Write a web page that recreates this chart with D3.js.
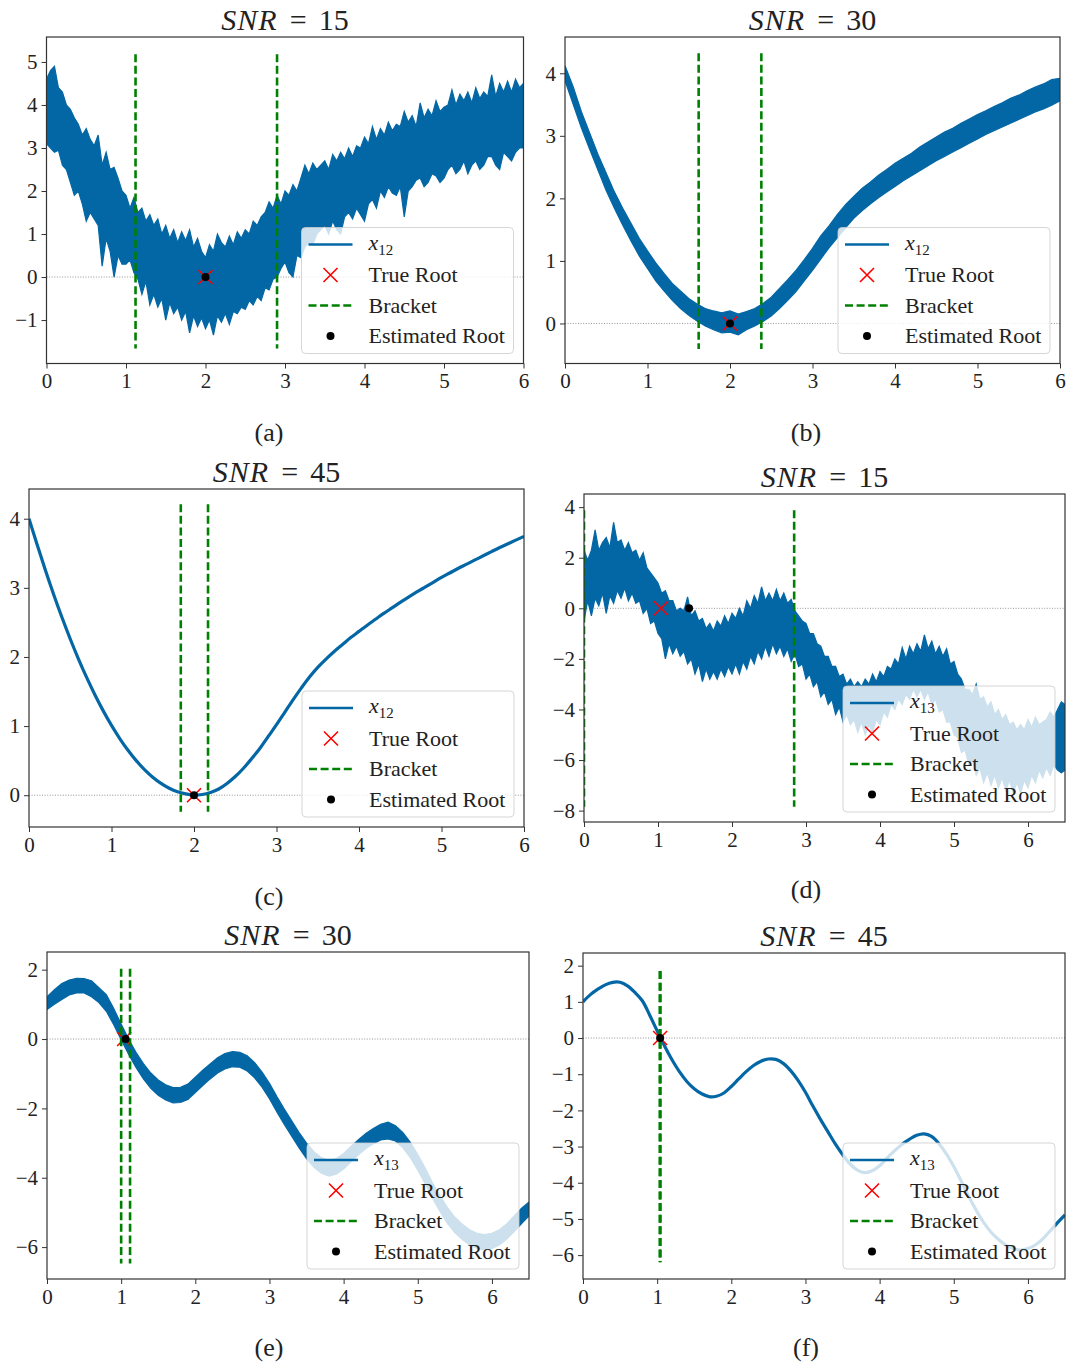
<!DOCTYPE html>
<html>
<head>
<meta charset="utf-8">
<script src="https://cdn.jsdelivr.net/npm/d3@7"></script>
<style>
  body { margin: 0; background: #fff; }
  svg { display: block; }
  text { font-family: "Liberation Serif", "Times New Roman", serif; fill: #222; }
</style>
</head>
<body>
<svg id="fig" width="1068" height="1366"></svg>
<script>
// ---------------------------------------------------------------------------
// Data: x12 and x13 traces at three noise levels, sampled on even x grids.
// Noisy traces are stored as upper / lower envelopes of the signal band.
// ---------------------------------------------------------------------------

// x12, SNR = 15 (step 0.05 from x = 0 to 6)
const X12_SNR15_STEP = 0.05;
const X12_SNR15_UPPER = [
  4.6,4.8,4.9,4.4,4.3,4.0,3.9,3.7,3.55,3.3, 3.45,3.2,3.05,3.3,2.6,2.9,2.5,2.55,2.3,2.0,
  1.9,1.6,1.85,1.5,1.6,1.3,1.45,1.2,1.35,1.0, 1.2,0.9,1.1,0.8,1.05,0.85,1.1,0.7,0.9,0.6,
  0.45,0.75,0.6,1.0,0.8,0.7,0.95,0.75,1.05,0.9, 1.1,1.0,1.3,1.2,1.4,1.5,1.75,1.6,1.9,1.7,
  2.0,1.9,2.15,2.0,2.3,2.6,2.4,2.65,2.5,2.6, 2.7,2.5,2.85,2.7,2.9,2.75,3.0,2.8,3.05,3.0,
  3.25,3.1,3.5,3.2,3.45,3.3,3.6,3.4,3.55,3.5, 3.85,3.6,3.75,3.5,4.05,3.7,3.9,3.75,4.1,3.85,
  3.95,4.0,4.35,4.0,4.25,4.1,4.3,4.05,4.4,4.15, 4.3,4.2,4.7,4.2,4.5,4.3,4.55,4.3,4.6,4.4,
  4.5
];
const X12_SNR15_LOWER = [
  3.1,3.0,2.9,2.95,2.6,2.5,2.2,1.9,2.0,1.7, 1.3,1.5,1.35,1.2,0.25,0.9,0.6,0.0,0.5,0.3,
  0.3,0.4,0.1,-0.05,-0.4,-0.1,-0.65,-0.4,-0.7,-0.5, -1.0,-0.6,-0.85,-0.7,-1.0,-0.8,-1.3,-0.9,-1.15,-0.95,
  -1.2,-1.0,-1.35,-0.9,-1.05,-0.85,-1.1,-0.8,-0.85,-0.7, -0.75,-0.55,-0.65,-0.45,-0.55,-0.25,-0.3,-0.05,0.0,0.2,
  0.35,0.1,0.0,0.5,0.45,0.7,0.8,0.75,1.0,1.1, 1.2,1.0,1.3,1.1,1.0,1.4,1.5,1.35,1.6,1.45,
  1.3,1.7,1.8,1.6,2.0,1.85,2.1,1.95,1.9,2.1, 1.4,2.0,2.1,2.25,2.3,2.1,2.2,2.4,2.35,2.2,
  2.3,2.5,2.6,2.4,2.5,2.7,2.4,2.6,2.7,2.5, 2.6,2.8,2.8,2.6,2.5,2.9,2.8,2.7,2.9,3.0,
  3.0
];

// x12, SNR = 30 (step 0.1 from x = 0 to 6)
const X12_SNR30_STEP = 0.1;
const X12_SNR30_UPPER = [
  4.12,3.78,3.38,3.04,2.7,2.4,2.1,1.84,1.6,1.36,
  1.16,0.97,0.8,0.64,0.52,0.4,0.31,0.24,0.2,0.17,
  0.2,0.15,0.19,0.24,0.32,0.42,0.56,0.7,0.85,1.02,
  1.2,1.4,1.56,1.74,1.9,2.03,2.16,2.26,2.37,2.46,
  2.56,2.64,2.72,2.82,2.9,2.98,3.06,3.12,3.2,3.27,
  3.34,3.4,3.47,3.53,3.6,3.65,3.72,3.78,3.83,3.9,
  3.92
];
const X12_SNR30_LOWER = [
  3.88,3.5,3.12,2.78,2.45,2.12,1.84,1.57,1.32,1.08,
  0.88,0.68,0.52,0.37,0.24,0.13,0.04,-0.04,-0.1,-0.15,
  -0.14,-0.18,-0.1,-0.04,0.03,0.12,0.24,0.37,0.51,0.68,
  0.85,1.03,1.21,1.37,1.53,1.68,1.8,1.91,2.01,2.1,
  2.19,2.28,2.36,2.44,2.52,2.6,2.67,2.74,2.81,2.88,
  2.95,3.02,3.08,3.14,3.2,3.26,3.32,3.38,3.43,3.49,
  3.56
];

// x12, SNR = 45 (step 0.1 from x = 0 to 6)
const X12_SNR45_STEP = 0.1;
const X12_SNR45 = [
  4.0,3.62,3.25,2.9,2.57,2.26,1.97,1.7,1.45,1.22,
  1.01,0.82,0.65,0.5,0.37,0.26,0.17,0.1,0.05,0.02,
  0.0,0.01,0.04,0.09,0.17,0.27,0.39,0.53,0.68,0.85,
  1.02,1.2,1.38,1.55,1.71,1.85,1.97,2.08,2.18,2.28,
  2.37,2.46,2.545,2.63,2.71,2.79,2.865,2.94,3.01,3.08,
  3.15,3.215,3.28,3.34,3.4,3.46,3.52,3.58,3.635,3.69,
  3.745
];

// x13, SNR = 15 (step 0.05 from x = 0 to 6.5)
const X13_SNR15_STEP = 0.05;
const X13_SNR15_UPPER = [
  2.3,1.9,2.3,3.1,2.3,2.6,2.8,2.4,3.4,2.6, 2.7,2.3,2.6,2.2,2.3,1.9,2.2,1.6,1.4,1.2,
  1.0,0.6,0.7,0.3,0.3,-0.1,0.0,-0.1,0.45,-0.3, -0.1,-0.5,-0.4,-0.8,-0.6,-0.9,-0.5,-0.7,-0.3,-0.6,
  -0.2,-0.4,0.0,-0.3,0.3,0.0,0.5,0.2,0.85,0.3, 0.6,0.3,0.75,0.3,0.6,0.2,0.35,-0.1,-0.3,-0.5,
  -0.6,-1.0,-1.0,-1.4,-1.5,-1.9,-1.9,-2.3,-2.3,-2.7, -2.6,-3.0,-2.8,-3.1,-2.9,-3.1,-2.8,-3.0,-2.6,-2.9,
  -2.5,-2.7,-2.3,-2.4,-2.0,-2.2,-1.55,-2.0,-1.5,-1.8, -1.4,-1.7,-1.05,-1.6,-1.3,-1.8,-1.5,-1.9,-1.6,-2.2,
  -2.1,-2.6,-2.8,-3.2,-3.2,-3.4,-3.0,-3.6,-3.5,-3.9, -3.7,-4.2,-4.0,-4.4,-4.2,-4.6,-4.5,-4.8,-4.6,-4.8,
  -4.4,-4.7,-4.3,-4.6,-4.5,-4.4,-4.1,-4.3,-4.0,-3.7,-3.8
];
const X13_SNR15_LOWER = [
  -0.5,0.3,-0.3,0.4,0.1,0.6,-0.2,0.5,0.2,0.7, 0.4,0.8,0.3,0.6,0.2,0.3,-0.2,0.0,-0.6,-0.5,
  -1.0,-1.2,-2.0,-1.4,-1.8,-1.5,-1.9,-1.7,-2.2,-2.0, -2.6,-2.2,-2.9,-2.4,-2.8,-2.5,-2.8,-2.4,-2.7,-2.3,
  -2.6,-2.2,-2.6,-2.1,-2.4,-1.9,-2.2,-1.7,-2.0,-1.5, -1.9,-1.4,-1.8,-1.5,-1.9,-1.6,-2.1,-1.8,-2.3,-2.2,
  -2.8,-2.6,-3.1,-2.9,-3.5,-3.3,-3.8,-3.6,-4.2,-3.9, -4.5,-4.2,-4.6,-4.4,-4.9,-4.5,-5.0,-4.6,-4.9,-4.4,
  -4.6,-4.1,-4.3,-3.8,-4.0,-3.6,-3.8,-3.4,-3.6,-3.2, -3.5,-3.2,-3.6,-3.3,-3.8,-3.6,-4.1,-4.0,-4.5,-4.5,
  -5.0,-5.1,-5.7,-5.6,-6.2,-6.0,-6.6,-6.3,-6.9,-6.5, -7.0,-6.6,-7.1,-6.7,-7.2,-6.8,-7.3,-6.9,-7.3,-6.8,
  -7.1,-6.6,-6.9,-6.4,-6.7,-6.3,-6.6,-6.2,-6.4,-6.5,-6.4
];

// x13, SNR = 30 (step 0.1 from x = 0 to 6.5)
const X13_SNR30_STEP = 0.1;
const X13_SNR30_UPPER = [
  1.22,1.42,1.6,1.7,1.75,1.74,1.68,1.48,1.28,0.88,
  0.43,0.0,-0.38,-0.71,-0.98,-1.18,-1.32,-1.4,-1.39,-1.3,
  -1.1,-0.9,-0.72,-0.54,-0.42,-0.36,-0.38,-0.48,-0.68,-0.95,
  -1.28,-1.66,-2.02,-2.36,-2.7,-3.0,-3.25,-3.42,-3.5,-3.45,
  -3.3,-3.1,-2.9,-2.72,-2.58,-2.46,-2.4,-2.5,-2.7,-2.98,
  -3.33,-3.72,-4.15,-4.52,-4.86,-5.14,-5.34,-5.5,-5.6,-5.64,
  -5.6,-5.5,-5.33,-5.1,-4.88,-4.7
];
const X13_SNR30_LOWER = [
  0.85,1.0,1.14,1.27,1.33,1.33,1.22,1.05,0.8,0.41,
  -0.02,-0.44,-0.82,-1.15,-1.42,-1.62,-1.76,-1.84,-1.83,-1.74,
  -1.54,-1.34,-1.15,-0.98,-0.86,-0.8,-0.81,-0.92,-1.12,-1.39,
  -1.72,-2.1,-2.46,-2.8,-3.14,-3.45,-3.7,-3.87,-3.95,-3.9,
  -3.75,-3.54,-3.34,-3.16,-3.02,-2.91,-2.88,-2.94,-3.14,-3.42,
  -3.78,-4.17,-4.6,-4.97,-5.32,-5.58,-5.78,-5.94,-6.04,-6.08,
  -6.04,-5.94,-5.77,-5.55,-5.32,-5.1
];

// x13, SNR = 45 (step 0.1 from x = 0 to 6.5)
const X13_SNR45_STEP = 0.1;
const X13_SNR45 = [
  1.0,1.2,1.35,1.47,1.54,1.54,1.44,1.26,1.03,0.63,
  0.2,-0.22,-0.6,-0.93,-1.2,-1.4,-1.54,-1.62,-1.61,-1.52,
  -1.34,-1.13,-0.93,-0.76,-0.64,-0.58,-0.59,-0.7,-0.9,-1.17,
  -1.5,-1.88,-2.24,-2.58,-2.92,-3.22,-3.48,-3.65,-3.72,-3.67,
  -3.53,-3.32,-3.12,-2.94,-2.8,-2.69,-2.65,-2.72,-2.92,-3.2,
  -3.55,-3.95,-4.37,-4.75,-5.09,-5.36,-5.56,-5.72,-5.82,-5.86,
  -5.82,-5.72,-5.55,-5.33,-5.1,-4.89
];

// Root-finding results per panel
const SNR_LEVELS   = [15, 30, 45, 15, 30, 45];
const SERIES_SUB   = ["12", "12", "12", "13", "13", "13"];
const TRUE_ROOTS   = [2.0, 2.0, 2.0, 1.04, 1.04, 1.04];
const EST_ROOTS    = [2.0, 2.0, 2.0, 1.42, 1.06, 1.04];
const BRACKETS     = [[1.12, 2.90], [1.62, 2.38], [1.84, 2.17], [0.0, 2.84], [1.0, 1.12], [1.035, 1.045]];
const BRACKET_SPAN = [[-1.66, 5.18], [-0.41, 4.32], [-0.24, 4.21], [-7.85, 3.88], [-6.47, 2.03], [-6.2, 1.85]];
const CAPTIONS     = ["(a)", "(b)", "(c)", "(d)", "(e)", "(f)"];

// Axis limits and ticks
const X_LIMITS = [[0, 6], [0, 6], [0, 6], [0, 6.5], [0, 6.5], [0, 6.5]];
const Y_LIMITS = [[-2.01, 5.58], [-0.64, 4.58], [-0.46, 4.43], [-8.45, 4.52], [-6.92, 2.51], [-6.66, 2.35]];
const X_TICKS  = [0, 1, 2, 3, 4, 5, 6];
const Y_TICKS  = [
  [-1, 0, 1, 2, 3, 4, 5],
  [0, 1, 2, 3, 4],
  [0, 1, 2, 3, 4],
  [-8, -6, -4, -2, 0, 2, 4],
  [-6, -4, -2, 0, 2],
  [-6, -5, -4, -3, -2, -1, 0, 1, 2]
];

// Traces per panel
const TRACES = [
  { step: X12_SNR15_STEP, upper: X12_SNR15_UPPER, lower: X12_SNR15_LOWER },
  { step: X12_SNR30_STEP, upper: X12_SNR30_UPPER, lower: X12_SNR30_LOWER },
  { step: X12_SNR45_STEP, line: X12_SNR45 },
  { step: X13_SNR15_STEP, upper: X13_SNR15_UPPER, lower: X13_SNR15_LOWER },
  { step: X13_SNR30_STEP, upper: X13_SNR30_UPPER, lower: X13_SNR30_LOWER },
  { step: X13_SNR45_STEP, line: X13_SNR45 }
];

// ---------------------------------------------------------------------------
// Layout (plot area boxes in page pixels)
// ---------------------------------------------------------------------------
const BOXES = [
  { left: 46.5, top: 37,  right: 523.5, bottom: 363.5, capX: 269, capY: 441 },
  { left: 565,  top: 37,  right: 1060,  bottom: 363.5, capX: 806, capY: 441 },
  { left: 29,   top: 489, right: 524,   bottom: 827,   capX: 269, capY: 905 },
  { left: 584,  top: 494, right: 1065,  bottom: 822,   capX: 806, capY: 898 },
  { left: 47,   top: 952, right: 529,   bottom: 1279,  capX: 269, capY: 1356 },
  { left: 583,  top: 953, right: 1065,  bottom: 1279,  capX: 806, capY: 1356 }
];

const BLUE = "#0467a5";
const GREEN = "#008000";
const SERIF = '"Liberation Serif", "Times New Roman", serif';
const svg = d3.select("#fig");

function drawPanel(i) {
  const b = BOXES[i];
  const tr = TRACES[i];
  const x = d3.scaleLinear().domain(X_LIMITS[i]).range([b.left, b.right]);
  const y = d3.scaleLinear().domain(Y_LIMITS[i]).range([b.bottom, b.top]);
  const g = svg.append("g");

  const clipId = "clip" + i;
  g.append("clipPath").attr("id", clipId)
    .append("rect").attr("x", b.left).attr("y", b.top)
    .attr("width", b.right - b.left).attr("height", b.bottom - b.top);
  const plot = g.append("g").attr("clip-path", `url(#${clipId})`);

  // zero reference line
  plot.append("line")
    .attr("x1", b.left).attr("x2", b.right)
    .attr("y1", y(0)).attr("y2", y(0))
    .attr("stroke", "#8a8a8a").attr("stroke-width", 0.9)
    .attr("stroke-dasharray", "1,1.6");

  // signal
  if (tr.line) {
    const line = d3.line()
      .x((d, k) => x(k * tr.step)).y(d => y(d))
      .curve(d3.curveCatmullRom);
    plot.append("path").datum(tr.line).attr("d", line)
      .attr("fill", "none").attr("stroke", BLUE).attr("stroke-width", 3.2);
  } else {
    const area = d3.area()
      .x((d, k) => x(k * tr.step))
      .y1(d => y(d))
      .y0((d, k) => y(tr.lower[k]));
    plot.append("path").datum(tr.upper).attr("d", area)
      .attr("fill", BLUE).attr("stroke", BLUE).attr("stroke-width", 1.2)
      .attr("stroke-linejoin", "miter");
  }

  // true root marker
  const tx = x(TRUE_ROOTS[i]), ty = y(0), s = 7;
  plot.append("path")
    .attr("d", `M${tx - s},${ty - s}L${tx + s},${ty + s}M${tx - s},${ty + s}L${tx + s},${ty - s}`)
    .attr("stroke", "red").attr("stroke-width", 1.6).attr("fill", "none");

  // bracket lines
  BRACKETS[i].forEach(bx => {
    plot.append("line")
      .attr("x1", x(bx)).attr("x2", x(bx))
      .attr("y1", y(BRACKET_SPAN[i][1])).attr("y2", y(BRACKET_SPAN[i][0]))
      .attr("stroke", GREEN).attr("stroke-width", 2.6)
      .attr("stroke-dasharray", "8,3.6");
  });

  // estimated root marker
  plot.append("circle").attr("cx", x(EST_ROOTS[i])).attr("cy", y(0)).attr("r", 4)
    .attr("fill", "#000");

  // axes
  const xAxis = d3.axisBottom(x).tickValues(X_TICKS).tickSize(5).tickPadding(5)
    .tickSizeOuter(0).tickFormat(d3.format("d"));
  const yAxis = d3.axisLeft(y).tickValues(Y_TICKS[i]).tickSize(5).tickPadding(4)
    .tickSizeOuter(0).tickFormat(d3.format("d"));
  const gx = g.append("g").attr("transform", `translate(0,${b.bottom})`).call(xAxis);
  const gy = g.append("g").attr("transform", `translate(${b.left},0)`).call(yAxis);
  [gx, gy].forEach(ax => {
    ax.attr("font-family", null).attr("font-size", null);
    ax.select(".domain").remove();
    ax.selectAll(".tick line").attr("stroke", "#333").attr("stroke-width", 1);
    ax.selectAll(".tick text").attr("fill", "#222")
      .style("font-family", SERIF).style("font-size", "21px");
  });

  // frame
  g.append("rect").attr("x", b.left).attr("y", b.top)
    .attr("width", b.right - b.left).attr("height", b.bottom - b.top)
    .attr("fill", "none").attr("stroke", "#333").attr("stroke-width", 1.2);

  // title: italic SNR, then "=" and the level with math-style spacing
  const title = g.append("text")
    .attr("x", (b.left + b.right) / 2).attr("y", b.top - 7)
    .attr("text-anchor", "middle").style("font-size", "30px");
  title.append("tspan").style("font-style", "italic").style("letter-spacing", "1px").text("SNR");
  title.append("tspan").attr("dx", 12).text("=");
  title.append("tspan").attr("dx", 12).text(SNR_LEVELS[i]);

  // legend
  const lw = 212, lh = 126;
  const lx = b.right - 10 - lw, ly = b.bottom - 10 - lh;
  const lg = g.append("g");
  lg.append("rect").attr("x", lx).attr("y", ly).attr("width", lw).attr("height", lh)
    .attr("rx", 4).attr("fill", "#fff").attr("fill-opacity", 0.8)
    .attr("stroke", "#ccc").attr("stroke-opacity", 0.8).attr("stroke-width", 1);
  const rowY = k => ly + 17 + k * 30.5;
  const hx0 = lx + 7, hx1 = lx + 51, hxm = lx + 29, textX = lx + 67;
  lg.append("line").attr("x1", hx0).attr("x2", hx1).attr("y1", rowY(0)).attr("y2", rowY(0))
    .attr("stroke", BLUE).attr("stroke-width", 2.4);
  const m = 7, my = rowY(1);
  lg.append("path")
    .attr("d", `M${hxm - m},${my - m}L${hxm + m},${my + m}M${hxm - m},${my + m}L${hxm + m},${my - m}`)
    .attr("stroke", "red").attr("stroke-width", 1.6);
  lg.append("line").attr("x1", hx0).attr("x2", hx1).attr("y1", rowY(2)).attr("y2", rowY(2))
    .attr("stroke", GREEN).attr("stroke-width", 2.6).attr("stroke-dasharray", "8,3.6");
  lg.append("circle").attr("cx", hxm).attr("cy", rowY(3)).attr("r", 4).attr("fill", "#000");

  const lbl0 = lg.append("text").attr("x", textX).attr("y", rowY(0) + 5).style("font-size", "22px");
  lbl0.append("tspan").style("font-style", "italic").text("x");
  lbl0.append("tspan").attr("dy", 5).style("font-size", "15px").text(SERIES_SUB[i]);
  ["True Root", "Bracket", "Estimated Root"].forEach((t, k) => {
    lg.append("text").attr("x", textX).attr("y", rowY(k + 1) + 7)
      .style("font-size", "22px").text(t);
  });

  // caption
  g.append("text").attr("x", b.capX).attr("y", b.capY)
    .attr("text-anchor", "middle").style("font-size", "26px").text(CAPTIONS[i]);
}

for (let i = 0; i < 6; i++) drawPanel(i);
</script>
</body>
</html>
